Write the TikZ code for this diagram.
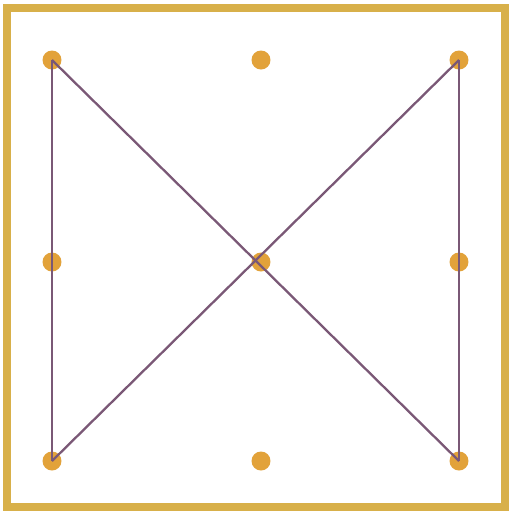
\documentclass[tikz,border=0pt]{standalone}
\usepackage{tikz}

\definecolor{frame}{HTML}{D8B04A}
\definecolor{peg}{HTML}{E2A23A}
\definecolor{stroke}{HTML}{7A5876}

\begin{document}
\begin{tikzpicture}[x=0.02cm, y=-0.02cm,
  dot/.style={circle, fill=peg, inner sep=0pt, minimum size=0.38cm},
  link/.style={draw=stroke, line width=1.3pt}]
\useasboundingbox (0,0) rectangle (512,515);
\fill[white] (0,0) rectangle (512,515);
\draw[frame, line width=4pt] (7,8) rectangle (505,507);
% the nine pegs
\foreach \c/\x in {l/52, m/261, r/459}
  \foreach \r/\y in {t/60, c/262, b/461}
    \node[dot] (\c\r) at (\x,\y) {};
% the strokes
\draw[link] (lt.center) -- (lb.center);
\draw[link] (lt.center) -- (rb.center);
\draw[link] (rt.center) -- (lb.center);
\draw[link] (rt.center) -- (rb.center);
\end{tikzpicture}
\end{document}
